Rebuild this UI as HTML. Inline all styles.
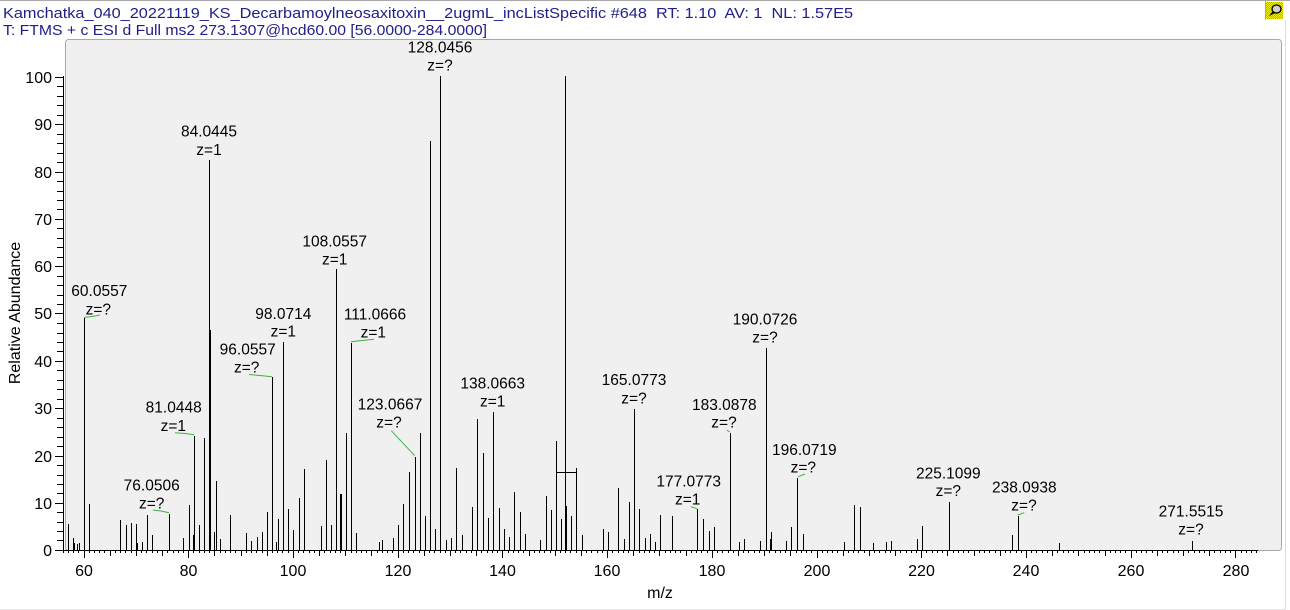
<!DOCTYPE html>
<html><head><meta charset="utf-8"><style>
html,body{margin:0;padding:0;background:#fff;width:1290px;height:610px;overflow:hidden}
svg{display:block}
text{font-family:"Liberation Sans",Arial,sans-serif}
.pre{white-space:pre}
</style></head><body>
<svg width="1290" height="610" viewBox="0 0 1290 610" xmlns="http://www.w3.org/2000/svg">
<defs>
<pattern id="chk" width="2" height="2" patternUnits="userSpaceOnUse">
<rect width="2" height="2" fill="#66e000"/>
<rect width="1" height="1" fill="#f0f000"/>
<rect x="1" y="1" width="1" height="1" fill="#f0f000"/>
</pattern>
</defs>
<!-- frame -->
<line x1="0" y1="0.5" x2="1290" y2="0.5" stroke="#a8a8a8"/>
<line x1="1265.5" y1="0" x2="1265.5" y2="20" stroke="#a8a8a8"/>
<line x1="1285.5" y1="20" x2="1285.5" y2="610" stroke="#dcdcdc"/>
<line x1="0" y1="609.5" x2="1286" y2="609.5" stroke="#e4e4e4"/>
<!-- icon -->
<rect x="1266" y="2" width="17" height="17" fill="url(#chk)"/>
<ellipse cx="1276.5" cy="9" rx="4.5" ry="4" fill="#d0d0d0" stroke="#000" stroke-width="1.3"/>
<path d="M1273 11 L1269 16 L1275 13 Z" fill="#000"/>
<!-- header -->
<text class="pre" x="3" y="18" font-size="15" fill="#20208c" textLength="850" lengthAdjust="spacingAndGlyphs" xml:space="preserve">Kamchatka_040_20221119_KS_Decarbamoylneosaxitoxin__2ugmL_incListSpecific #648  RT: 1.10  AV: 1  NL: 1.57E5</text>
<text class="pre" x="3" y="35" font-size="15" fill="#20208c" textLength="484" lengthAdjust="spacingAndGlyphs">T: FTMS + c ESI d Full ms2 273.1307@hcd60.00 [56.0000-284.0000]</text>
<!-- plot box -->
<rect x="65.5" y="39.5" width="1216" height="511" rx="3" fill="#f0f0f0" stroke="#a8a8a8"/>
<!-- y axis -->
<g stroke="#000" stroke-width="1" shape-rendering="crispEdges">
<line x1="63.5" y1="76" x2="63.5" y2="551"/>
<path d="M55 550.5H64M55 503.5H64M55 456.5H64M55 408.5H64M55 361.5H64M55 313.5H64M55 266.5H64M55 219.5H64M55 172.5H64M55 124.5H64M55 77.5H64"/>
<path d="M57 540.5H64M57 531.5H64M57 522.5H64M57 512.5H64M57 493.5H64M57 484.5H64M57 475.5H64M57 465.5H64M57 446.5H64M57 437.5H64M57 427.5H64M57 418.5H64M57 399.5H64M57 389.5H64M57 380.5H64M57 370.5H64M57 351.5H64M57 342.5H64M57 333.5H64M57 323.5H64M57 304.5H64M57 295.5H64M57 285.5H64M57 276.5H64M57 257.5H64M57 247.5H64M57 238.5H64M57 228.5H64M57 209.5H64M57 200.5H64M57 191.5H64M57 181.5H64M57 162.5H64M57 153.5H64M57 143.5H64M57 134.5H64M57 115.5H64M57 105.5H64M57 96.5H64M57 86.5H64"/>
</g>
<g font-size="16" fill="#000" text-anchor="end">
<text x="52" y="556">0</text><text x="52" y="509">10</text><text x="52" y="462">20</text><text x="52" y="414">30</text><text x="52" y="367">40</text><text x="52" y="319">50</text><text x="52" y="272">60</text><text x="52" y="225">70</text><text x="52" y="178">80</text><text x="52" y="130">90</text><text x="52" y="83">100</text>
</g>
<text transform="translate(20,313) rotate(-90)" font-size="16" text-anchor="middle" fill="#000">Relative Abundance</text>
<!-- x axis -->
<g id="xaxis" stroke="#000" stroke-width="1" shape-rendering="crispEdges"></g>
<g font-size="16" fill="#000" text-anchor="middle">
<text x="84" y="576">60</text><text x="188.5" y="576">80</text><text x="293" y="576">100</text><text x="398" y="576">120</text><text x="502.5" y="576">140</text><text x="607" y="576">160</text><text x="712" y="576">180</text><text x="817" y="576">200</text><text x="921.5" y="576">220</text><text x="1026" y="576">240</text><text x="1131" y="576">260</text><text x="1236" y="576">280</text>
<text x="660" y="598">m/z</text>
</g>
<!-- peaks -->
<path id="peaks" stroke="#000" stroke-width="1" fill="none" shape-rendering="crispEdges" d=""/>
<!-- bar marker -->
<g stroke="#000" stroke-width="1" shape-rendering="crispEdges">
<line x1="556" y1="472.5" x2="577" y2="472.5"/>
<line x1="556.5" y1="470" x2="556.5" y2="475"/>
</g>
<!-- leaders -->
<g stroke="#3cb43c" stroke-width="1" fill="none">
<polyline points="84,317.5 92,316.5 100,315"/>
<polyline points="249,374.5 260,375.5 272,376.7"/>
<polyline points="175,432.7 185,433.5 194,434.7"/>
<polyline points="153,510 161,511 169,512.7"/>
<polyline points="351,341.7 362,340.5 374,339.3"/>
<line x1="391.3" y1="430.7" x2="414.7" y2="455.7"/>
<line x1="726.7" y1="430" x2="729.7" y2="432"/>
<line x1="690.7" y1="506.7" x2="697.3" y2="508.7"/>
<line x1="798.3" y1="476.7" x2="805" y2="474"/>
<line x1="1017.7" y1="515" x2="1024.3" y2="512.7"/>
</g>
<!-- labels -->
<g font-size="15.5" fill="#000" text-anchor="middle">
<text x="440" y="52.3">128.0456</text><text x="440" y="70.7">z=?</text>
<text x="209" y="136.7">84.0445</text><text x="209" y="155">z=1</text>
<text x="334.7" y="246.7">108.0557</text><text x="334.7" y="264.3">z=1</text>
<text x="99.3" y="296">60.0557</text><text x="98.3" y="314.3">z=?</text>
<text x="283.3" y="319">98.0714</text><text x="283.3" y="336.7">z=1</text>
<text x="247.7" y="354.3">96.0557</text><text x="246.7" y="372.7">z=?</text>
<text x="173.7" y="412.7">81.0448</text><text x="173.3" y="431">z=1</text>
<text x="151.7" y="490.7">76.0506</text><text x="151.7" y="508.3">z=?</text>
<text x="375" y="319.3">111.0666</text><text x="373.3" y="337.3">z=1</text>
<text x="390" y="409.3">123.0667</text><text x="389" y="427.3">z=?</text>
<text x="492.7" y="388.3">138.0663</text><text x="492.7" y="406.7">z=1</text>
<text x="634" y="385">165.0773</text><text x="634" y="403.3">z=?</text>
<text x="765" y="324.3">190.0726</text><text x="765" y="342.7">z=?</text>
<text x="724.3" y="410">183.0878</text><text x="724" y="427.7">z=?</text>
<text x="688.7" y="486.7">177.0773</text><text x="687.7" y="504.3">z=1</text>
<text x="804.3" y="455">196.0719</text><text x="803.3" y="472.7">z=?</text>
<text x="948.3" y="478.3">225.1099</text><text x="948.3" y="496">z=?</text>
<text x="1024.3" y="492.7">238.0938</text><text x="1024" y="510.7">z=?</text>
<text x="1191" y="516.7">271.5515</text><text x="1191" y="534.3">z=?</text>
</g>
</svg>
<script>
(function(){
var pk=[[68,524],[73,538],[74,543],[77,544],[79,543],[84,318],[89,504],[120,520],[126,525],[131,523],[136,524],[137,543],[142,542],[147,515],[152,535],[169,514],[183,538],[189,505],[193,535],[194,436],[199,525],[204,438],[209,160],[210,330],[214,532],[216,481],[220,539],[230,515],[246,533],[251,541],[257,537],[262,532],[267,512],[272,377],[276,542],[278,519],[283,342],[288,509],[293,530],[299,498],[304,469],[321,526],[326,460],[331,525],[336,269],[340,494],[341,494],[346,433],[351,343],[356,533],[379,542],[382,540],[393,538],[398,525],[403,504],[409,472],[415,457],[420,433],[425,516],[430,141],[435,529],[440,76],[446,540],[451,538],[456,468],[462,535],[472,507],[477,419],[483,453],[488,518],[493,412],[499,508],[504,529],[509,537],[514,492],[520,512],[525,534],[540,540],[546,496],[551,510],[556,441],[561,519],[565,76],[566,506],[571,516],[576,468],[582,535],[603,529],[608,532],[618,488],[624,539],[629,502],[634,409],[639,509],[645,538],[650,534],[655,542],[660,515],[672,516],[697,509],[703,519],[709,531],[714,527],[730,433],[739,542],[744,539],[760,541],[766,348],[770,539],[771,532],[786,541],[791,527],[797,478],[803,534],[844,542],[854,505],[860,507],[873,543],[886,542],[891,541],[917,539],[922,526],[949,502],[1012,535],[1018,516],[1059,543],[1192,541]];
var d="";for(var i=0;i<pk.length;i++){d+="M"+(pk[i][0]+0.5)+" 550V"+pk[i][1];}
document.getElementById("peaks").setAttribute("d",d);
var g=document.getElementById("xaxis"),ns="http://www.w3.org/2000/svg";
var s="M63 550.5H1258";
for(var m=56;m<=284;m++){var x=Math.round(83.5+(m-60)*5.236)+0.5;var L=(m%20==0)?8:((m%5==0)?6:3);s+="M"+x+" 550V"+(550+L);}
var p=document.createElementNS(ns,"path");p.setAttribute("d",s);p.setAttribute("fill","none");g.appendChild(p);
})();
</script>
</body></html>
